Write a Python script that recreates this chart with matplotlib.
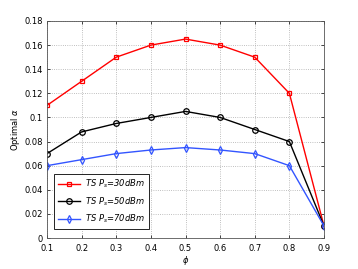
import numpy as np
import matplotlib.pyplot as plt

phi = [0.1, 0.2, 0.3, 0.4, 0.5, 0.6, 0.7, 0.8, 0.9]
ts30 = [0.11, 0.13, 0.15, 0.16, 0.165, 0.16, 0.15, 0.12, 0.01]
ts50 = [0.07, 0.088, 0.095, 0.10, 0.105, 0.10, 0.09, 0.08, 0.01]
ts70 = [0.06, 0.065, 0.07, 0.073, 0.075, 0.073, 0.07, 0.06, 0.01]

fig = plt.figure(figsize=(3.58, 2.69), dpi=100)
ax = fig.add_axes([47 / 358, 1 - 238 / 269, 277 / 358, 217 / 269])

ax.plot(phi, ts30, color='red', marker='s', ms=3.5, mfc='none', mew=0.9, lw=1,
        label=r'$\it{TS}\ P_s$=30dBm')
ax.plot(phi, ts50, color='black', marker='o', ms=4, mfc='none', mew=0.9, lw=1,
        label=r'$\it{TS}\ P_s$=50dBm')
ax.plot(phi, ts70, color='#3355ff', marker='d', ms=4, mfc='none', mew=0.9, lw=1,
        label=r'$\it{TS}\ P_s$=70dBm')

ax.set_xlim(0.1, 0.9)
ax.set_ylim(0, 0.18)
ax.set_xticks(phi)
ax.set_xticklabels(['0.1', '0.2', '0.3', '0.4', '0.5', '0.6', '0.7', '0.8', '0.9'])
ax.set_yticks([0, 0.02, 0.04, 0.06, 0.08, 0.1, 0.12, 0.14, 0.16, 0.18])
ax.set_yticklabels(['0', '0.02', '0.04', '0.06', '0.08', '0.1', '0.12', '0.14', '0.16', '0.18'])
ax.tick_params(labelsize=6, length=2, width=0.5, direction='in', top=True, right=True)
ax.tick_params(axis='x', pad=4)
ax.tick_params(axis='y', pad=3)
ax.grid(True, ls=':', lw=0.6, color='#aaaaaa')
for s in ax.spines.values():
    s.set_linewidth(0.6)
    s.set_color('#555555')

ax.set_xlabel(r'$\phi$', fontsize=6, labelpad=1)
ax.set_ylabel(r'Optimal $\alpha$', fontsize=6, labelpad=2)

leg = ax.legend(loc='lower left', fontsize=6, fancybox=False, framealpha=1,
                edgecolor='black', handlelength=2.6, handletextpad=0.6,
                borderpad=0.5, labelspacing=0.6, bbox_to_anchor=(0.01, 0.02))
leg.get_frame().set_linewidth(0.6)
for t in leg.get_texts():
    t.set_style('italic')

fig.savefig('out.png', dpi=100)
